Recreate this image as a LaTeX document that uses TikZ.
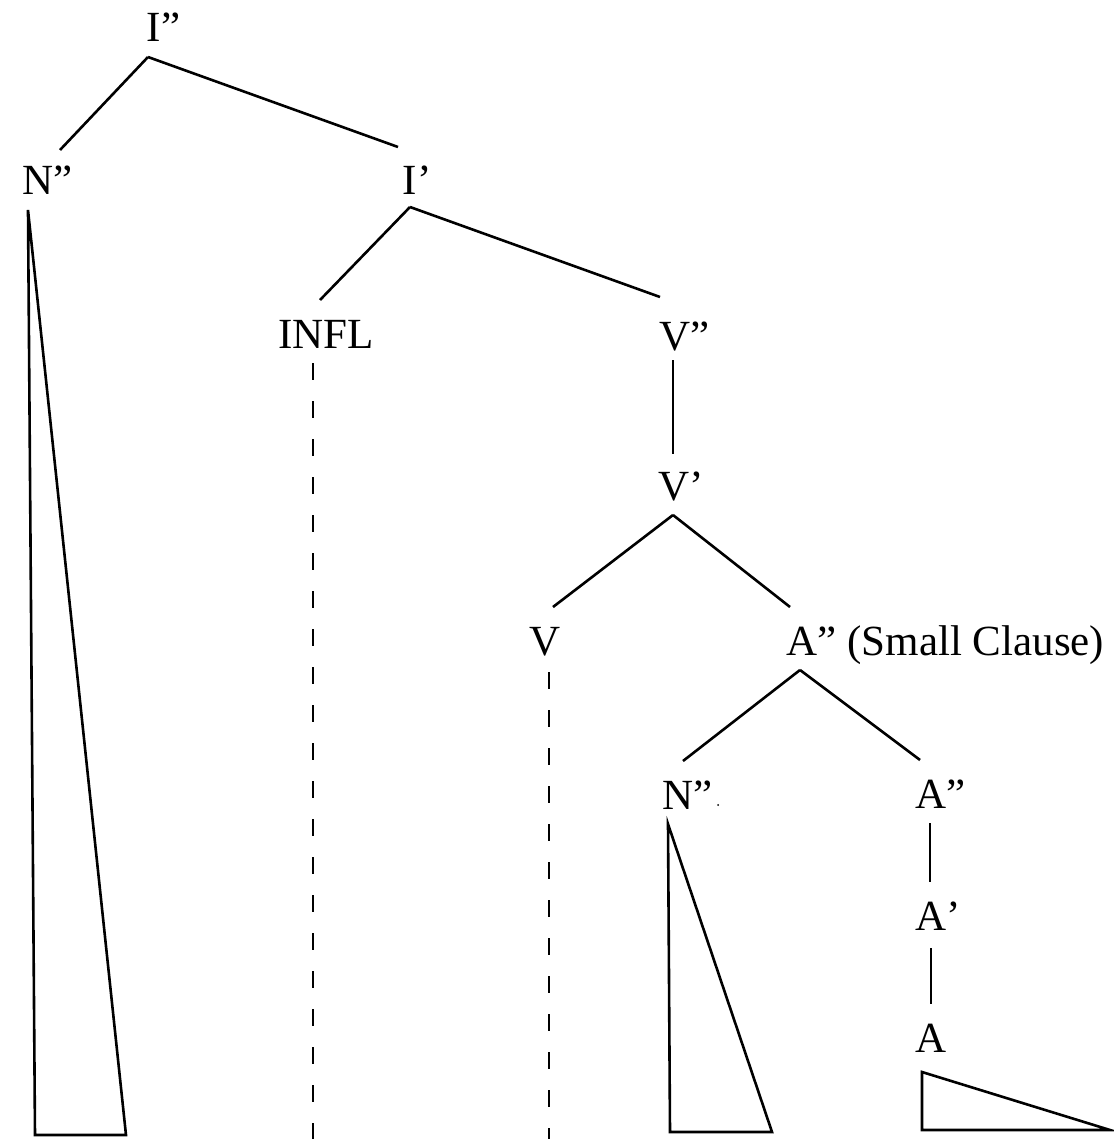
\documentclass[tikz,border=0pt]{standalone}
\usepackage{fontspec}
\setmainfont{Liberation Serif}
\begin{document}
\begin{tikzpicture}[x=1pt,y=-1pt,
  cat/.style={inner sep=0pt, outer xsep=0pt, outer ysep=15pt, anchor=base,
              text height=33pt, text depth=0pt, font=\fontsize{43}{43}\selectfont},
  bars/.style={inner sep=0pt, outer sep=0pt, anchor=base west,
               font=\fontsize{43}{43}\selectfont},
  branch/.style={line width=2.6pt},
  trace/.style={line width=2.6pt, dash pattern=on 17pt off 21pt},
  roof/.style={line width=2.6pt, line join=miter}]
\useasboundingbox (0,0) rectangle (1113,1139);

% category labels (head letter) with their bar levels
\node[cat] (ipp) at (154,42) {I};
\node[bars] (ippb) at (ipp.base east) {”};
\node[cat] (np) at (38,195) {N};
\node[bars] (npb) at (np.base east) {”};
\node[cat] (ip) at (410,195) {I};
\node[bars] (ipb) at (ip.base east) {’};
\node[cat] (infl) at (326,348) {INFL};
\node[cat] (vpp) at (675,350) {V};
\node[bars] (vppb) at (vpp.base east) {”};
\node[cat] (vp) at (674,500) {V};
\node[bars] (vpb) at (vp.base east) {’};
\node[cat] (v) at (545,655) {V};
\node[cat] (sc) at (802,655) {A};
\node[bars] (scb) at (sc.base east) {” (Small Clause)};
\node[cat] (np2) at (678,809) {N};
\node[bars] (np2b) at (np2.base east) {”};
\fill ([xshift=5.5pt,yshift=4pt]np2b.base east) circle (1.1pt);
\node[cat] (ap2) at (931,808) {A};
\node[bars] (ap2b) at (ap2.base east) {”};
\node[cat] (ap1) at (931,930) {A};
\node[bars] (ap1b) at (ap1.base east) {’};
\node[cat] (a) at (931,1052) {A};

% branches
\draw[branch] ([xshift=-6pt]ipp.south) -- ([xshift=22pt,yshift=-3pt]np.north);
\draw[branch] ([xshift=-6pt]ipp.south) -- ([xshift=-12pt]ip.north);
\draw[branch] ([yshift=3pt]ip.south) -- ([xshift=-6pt]infl.north);
\draw[branch] ([yshift=3pt]ip.south) -- ([xshift=-15pt,yshift=5pt]vpp.north);
\draw[branch] ([xshift=-2pt,yshift=5pt]vpp.south) -- ([xshift=-1pt,yshift=-2pt]vp.north);
\draw[branch] ([xshift=-1pt]vp.south) -- ([xshift=8pt]v.north);
\draw[branch] ([xshift=-1pt]vp.south) -- ([xshift=-12pt]sc.north);
\draw[branch] ([xshift=-2pt]sc.south) -- ([xshift=5pt]np2.north);
\draw[branch] ([xshift=-2pt]sc.south) -- ([xshift=-11pt]ap2.north);
\draw[branch] ([xshift=-1pt]ap2.south) -- ([xshift=-1pt]ap1.north);
\draw[branch] ([yshift=-3pt]ap1.south) -- (a.north);

% traces below INFL and V
\coordinate (infl-end) at (313,1139);
\coordinate (v-end) at (549,1139);
\draw[trace] ([xshift=-13pt]infl.south) -- (infl-end);
\draw[trace] ([xshift=4pt,yshift=-2pt]v.south) -- (v-end);

% roofs over unanalysed constituents
\draw[roof] ([xshift=-10pt]np.south) -- (35,1135) -- (126,1135) -- cycle;
\draw[roof] ([xshift=-10pt]np2.south) -- (670,1132) -- (772,1132) -- cycle;
\draw[roof] ([xshift=-9pt,yshift=-5pt]a.south) -- (922,1130) -- (1110,1130) -- cycle;
\end{tikzpicture}
\end{document}
